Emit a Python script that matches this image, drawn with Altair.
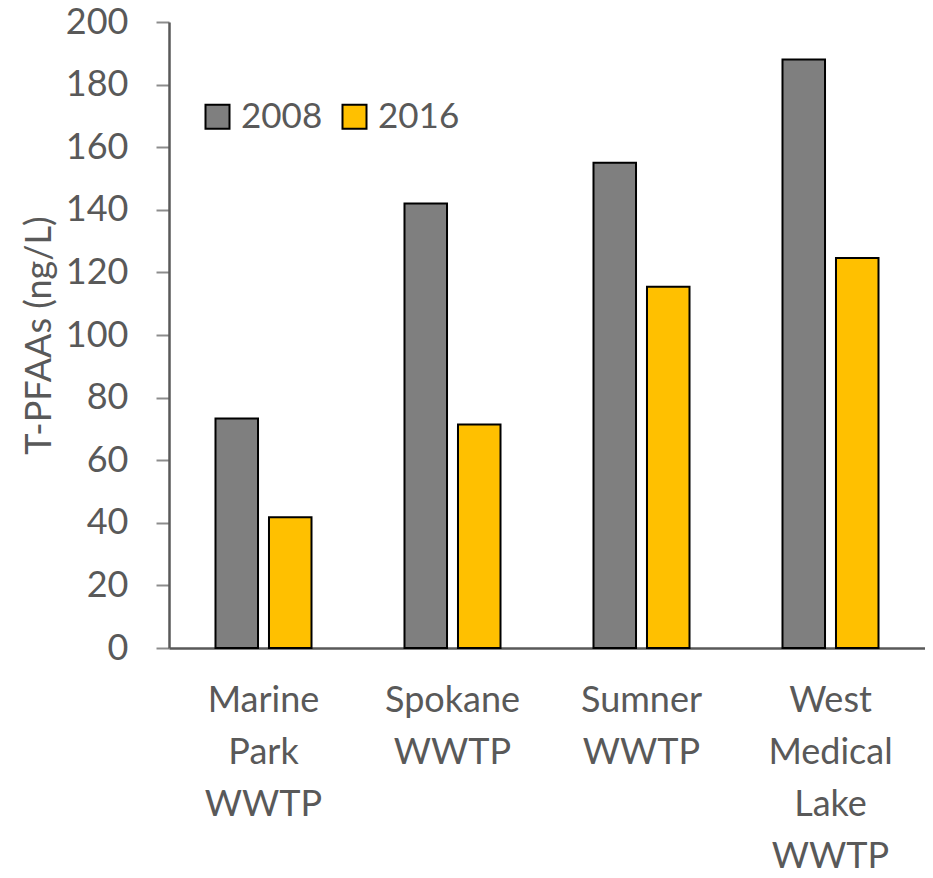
import altair as alt
import pandas as pd

sites = ["Marine|Park|WWTP", "Spokane|WWTP", "Sumner|WWTP", "West|Medical|Lake|WWTP"]
years = ["2008", "2016"]
v2008 = [73.3, 142.0, 155.0, 188.0]
v2016 = [41.8, 71.4, 115.4, 124.6]
colors = ["#7F7F7F", "#FFC000"]
y_ticks = [0, 20, 40, 60, 80, 100, 120, 140, 160, 180, 200]

rows = []
for s, a, b in zip(sites, v2008, v2016):
    rows.append({"site": s, "year": years[0], "value": a})
    rows.append({"site": s, "year": years[1], "value": b})
df = pd.DataFrame(rows)

FONT = "Lato"
GREY = "#595959"

chart = alt.Chart(df).mark_bar(stroke="black", strokeWidth=2).encode(
    x=alt.X("site:N", sort=sites, title=None,
            scale=alt.Scale(paddingInner=0.492, paddingOuter=0.246),
            axis=alt.Axis(labelExpr="split(datum.label, '|')", labelAngle=0,
                          labelFontSize=36, labelFont=FONT, labelColor=GREY,
                          labelLineHeight=52, labelBaseline="top", labelPadding=35,
                          ticks=False, domainColor=GREY, domainWidth=2.5,
                          labelLimit=300)),
    xOffset=alt.XOffset("year:N", sort=years,
                        scale=alt.Scale(paddingInner=0.205, paddingOuter=0)),
    y=alt.Y("value:Q", title="T-PFAAs (ng/L)",
            scale=alt.Scale(domain=[0, 200], nice=False),
            axis=alt.Axis(values=y_ticks, grid=False, tickSize=13, tickWidth=2,
                          tickColor="#8c8c8c", domainColor=GREY, domainWidth=2.5,
                          labelFontSize=36, labelFont=FONT, labelColor=GREY,
                          labelPadding=28,
                          titleFontSize=36, titleFont=FONT, titleColor=GREY,
                          titleFontWeight="normal",
                          titleX=-119, titleY=313, titleAngle=270,
                          titleAlign="center", titleBaseline="alphabetic")),
    color=alt.Color("year:N", sort=years, title=None,
                    scale=alt.Scale(domain=years, range=colors),
                    legend=alt.Legend(orient="none", legendX=31, legendY=77,
                                      direction="horizontal", symbolType="square",
                                      symbolSize=576, symbolStrokeColor="black",
                                      symbolStrokeWidth=2, symbolOpacity=1,
                                      labelFontSize=35, labelFont=FONT,
                                      labelColor=GREY, labelOffset=6,
                                      columnPadding=14, padding=0)),
).properties(
    width=756, height=626,
    autosize=alt.AutoSizeParams(type="none"),
    padding={"left": 161, "top": 14, "right": 0, "bottom": 222},
).configure_view(stroke=None)

chart.save("out.html", embed_options={"renderer": "svg", "actions": False})
